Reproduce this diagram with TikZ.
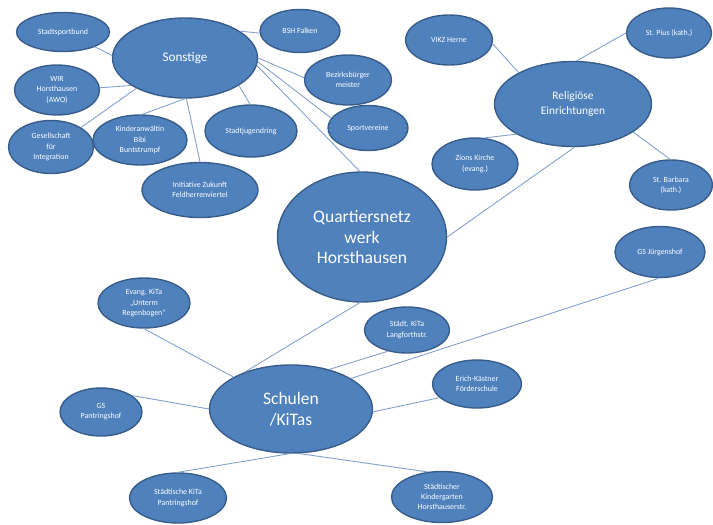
\documentclass[tikz,border=0pt]{standalone}
\usepackage{fontspec}
\setmainfont{Carlito}
\usetikzlibrary{shapes.geometric}

\definecolor{boxblue}{RGB}{79,129,189}
\definecolor{rimblue}{RGB}{56,93,138}
\definecolor{linkblue}{RGB}{130,158,205}

\begin{document}
\begin{tikzpicture}[x=0.02cm,y=-0.02cm,
	blob/.style={ellipse,draw=rimblue,line width=0.8pt,fill=boxblue,text=white,
		inner sep=0pt,align=center,font=\fontsize{4.5}{5.8}\selectfont},
	dims/.style 2 args={minimum width=#1*0.02cm,minimum height=#2*0.02cm},
	hub/.style={blob,font=\fontsize{7.5}{9}\selectfont},
	core/.style={blob,font=\fontsize{10}{11.8}\selectfont},
	link/.style={draw=linkblue,line width=0.5pt}]
		\useasboundingbox (0,0) rectangle (713,524);
	
		% centre of the network
		\node (quartier) at (362,237) [core,dims={169}{130}] {Quartiersnetz\\werk\\Horsthausen};
	
		% group "Sonstige"
		\node (sonstige) at (185,58) [hub,dims={145}{80}] {Sonstige};
		\node (sportbund) at (63,32) [blob,dims={93}{39}] {Stadtsportbund};
		\node (wir) at (57,90) [blob,dims={85}{50}] {WIR\\Horsthausen\\(AWO)};
		\node (gesell) at (51,147) [blob,dims={85}{53}] {Gesellschaft\\für\\Integration};
		\node (kinder) at (140,140) [blob,dims={94}{50}] {Kinderanwältin\\Bibi\\Buntstrumpf};
		\node (jugend) at (251,131) [blob,dims={92}{52}] {Stadtjugendring};
		\node (initiative) at (200,190) [blob,dims={116}{55}] {Initiative Zukunft\\Feldherrenviertel};
		\node (falken) at (300,31) [blob,dims={80}{43}] {BSH Falken};
		\node (bezirk) at (348,80) [blob,dims={87}{50}] {Bezirksbürger\\meister};
		\node (sport) at (368,128) [blob,dims={80}{45}] {Sportvereine};
	
		% group "Religiöse Einrichtungen"
		\node (relig) at (573,104) [hub,dims={157}{85},font=\fontsize{6.5}{8}\selectfont] {Religiöse\\Einrichtungen};
		\node (vikz) at (449,40) [blob,dims={87}{50}] {VIKZ Herne};
		\node (pius) at (669,33) [blob,dims={85}{50}] {St. Pius (kath.)};
		\node (zions) at (475,164) [blob,dims={86}{52}] {Zions Kirche\\(evang.)};
		\node (barbara) at (671,185) [blob,dims={83}{50}] {St. Barbara\\(kath.)};
	
		% group "Schulen /KiTas"
		\node (schulen) at (291,409) [core,dims={163}{88}] {Schulen\\/KiTas};
		\node (juergen) at (660,252) [blob,dims={90}{51}] {GS Jürgenshof};
		\node (evkita) at (144,303) [blob,dims={92}{50}] {Evang. KiTa\\„Unterm\\Regenbogen“};
		\node (gspant) at (101,412) [blob,dims={82}{48}] {GS\\Pantringshof};
		\node (langf) at (407,330) [blob,dims={85}{46}] {Städt. KiTa\\Langforthstr.};
		\node (erich) at (477,384) [blob,dims={89}{48}] {Erich-Kästner\\Förderschule};
		\node (kitapant) at (178,498) [blob,dims={97}{50}] {Städtische KiTa\\Pantringshof};
		\node (kiga) at (442,497) [blob,dims={101}{51}] {Städtischer\\Kindergarten\\Horsthauserstr.};
	
		% lines around "Sonstige"
		\draw[link] (sportbund.-25) -- (sonstige.178);
		\draw[link] (wir.3) -- (sonstige.207);
		\draw[link] (gesell.33) -- (sonstige.212);
		\draw[link] (kinder.85) -- (sonstige.-90);
		\draw[link] (initiative.90) -- (sonstige.-88);
		\draw[link] (jugend.92) -- (sonstige.-27);
		\draw[link] (falken.183) -- (sonstige.26);
		\draw[link] (bezirk.177) -- (sonstige.0);
		\draw[link] (sport.165) -- (sonstige.-3);
		\draw[link] (quartier.92) -- (sonstige.-6);
	
		% lines around "Religiöse Einrichtungen"
		\draw[link] (vikz.-5) -- (relig.150);
		\draw[link] (pius.180) -- (relig.85);
		\draw[link] (zions.70) -- (relig.208);
		\draw[link] (barbara.92) -- (relig.-25);
		\draw[link] (quartier.0) -- (relig.-88);
	
		% lines around "Schulen /KiTas"
		\draw[link] (quartier.-92) -- (schulen.141);
		\draw[link] (evkita.-90) -- (schulen.151);
		\draw[link] (gspant.28) -- (schulen.180);
		\draw[link] (langf.-132) -- (schulen.46);
		\draw[link] (juergen.-92) -- (schulen.27);
		\draw[link] (erich.200) -- (schulen.-2);
		\draw[link] (kitapant.90) -- (schulen.-92);
		\draw[link] (kiga.120) -- (schulen.-80);
	\end{tikzpicture}
\end{document}
